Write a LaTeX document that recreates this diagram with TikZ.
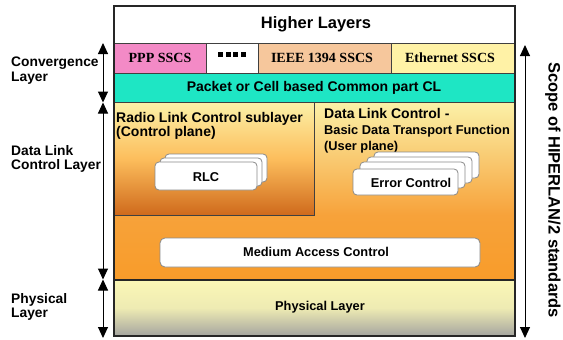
\documentclass[tikz,border=0pt]{standalone}
\usepackage{fontspec}
\setmainfont{Liberation Sans}
\newfontfamily\serifbf{Liberation Serif}[Scale=1.0]
\usetikzlibrary{arrows.meta}
\definecolor{pinkc}{HTML}{F38AC6}
\definecolor{peach}{HTML}{F6C79C}
\definecolor{lyel}{HTML}{FFF2A6}
\definecolor{cyanc}{HTML}{1EE6C4}
\definecolor{paley}{HTML}{FBF1A8}
\definecolor{darkor}{HTML}{CF6A1C}
\definecolor{midor}{HTML}{F7A23A}
\definecolor{lowor}{HTML}{F89C2A}
\definecolor{phytop}{HTML}{FBF7B6}
\definecolor{phybot}{HTML}{A5A5A0}
\definecolor{boxline}{HTML}{8A8A8A}
\tikzset{
  x=1pt, y=-1pt,
  frame/.style={draw=black!85, line width=1.1pt},
  thinframe/.style={draw=black!75, line width=0.8pt},
  lbl/.style={font=\fontsize{14}{14}\selectfont\bfseries, inner sep=0pt},
  lefttxt/.style={font=\fontsize{13.8}{14}\selectfont\bfseries, align=left, inner sep=0pt, anchor=base west},
  sscs/.style={font=\fontsize{14}{14}\selectfont\serifbf\bfseries, inner sep=0pt},
  wbox/.style={draw=boxline, fill=white, rounded corners=4pt, line width=0.8pt},
  boxtxt/.style={font=\fontsize{12.8}{13}\selectfont\bfseries, inner sep=0pt},
  dlarrow/.style={line width=1pt, {Triangle[length=11pt,width=10pt]}-{Triangle[length=11pt,width=10pt]}},
}
\begin{document}
\begin{tikzpicture}
\useasboundingbox (0,0) rectangle (563,340);
% backgrounds
\fill[white] (114,6) rectangle (515,43);
\fill[pinkc] (114,43) rectangle (206,73);
\fill[white] (206,43) rectangle (258,73);
\fill[peach] (258,43) rectangle (391,73);
\fill[lyel] (391,43) rectangle (515,73);
\fill[cyanc] (114,73) rectangle (515,102);
\shade[top color=paley, bottom color=midor] (314,102) rectangle (515,215);
\shade[top color=midor, bottom color=lowor] (114,215) rectangle (515,280);
\shade[top color=paley, bottom color=darkor, middle color=orange!45!paley] (114,102) rectangle (314,215);
\shade[top color=phytop, bottom color=phybot, middle color=phytop!85!phybot] (114,280) rectangle (515,336);
% lines
\draw[thinframe] (114,43) -- (515,43);
\draw[thinframe] (114,73) -- (515,73);
\draw[thinframe] (206,43) -- (206,73) (258,43) -- (258,73) (391,43) -- (391,73);
\draw[thinframe] (114,102) -- (515,102);
\draw[thinframe] (314,102) -- (314,215) -- (114,215);
\draw[frame] (114,280) -- (515,280);
\draw[frame] (114,6) rectangle (515,336);
% dots
\foreach \i in {0,1,2,3} \fill[black] (218+\i*7.7,52) rectangle ++(4.8,4.8);
% text
\node[lbl, font=\fontsize{16.5}{17}\selectfont\bfseries] (higher) at (316,24) {Higher Layers};
\node[sscs] (ppp) at (160,58) {PPP SSCS};
\node[sscs] (ieee) at (322,58) {IEEE 1394 SSCS};
\node[sscs] (eth) at (450,58) {Ethernet SSCS};
\node[lbl] (cl) at (314,88) {Packet or Cell based Common part CL};
\node[lbl, anchor=base west] (rlcs1) at (116,122) {Radio Link Control sublayer};
\node[lbl, anchor=base west] (rlcs2) at (116,136) {(Control plane)};
\node[lbl, anchor=base west] (dlc1) at (324,118) {Data Link Control -};
\node[boxtxt, anchor=base west] (dlc2) at (324,134) {Basic Data Transport Function};
\node[boxtxt, anchor=base west] (dlc3) at (324,150) {(User plane)};
% RLC stack
\draw[wbox] (165,154) rectangle (267,182);
\draw[wbox] (160,158) rectangle (262,186);
\draw[wbox] (155,162) rectangle (257,190);
\node[boxtxt] (rlc) at (206,177) {RLC};
% Error control stack
\draw[wbox] (374,152) rectangle (479,178);
\draw[wbox] (367,157) rectangle (472,183);
\draw[wbox] (360,162) rectangle (465,188);
\draw[wbox] (353,169) rectangle (458,195);
\node[boxtxt] (ec) at (411,183) {Error Control};
% MAC
\draw[wbox, rounded corners=5pt] (160,238) rectangle (480,267);
\node[boxtxt] (mac) at (316,252) {Medium Access Control};
\node[boxtxt] (phy) at (320,307) {Physical Layer};
% left labels
\node[lefttxt] (conv) at (11,81) {Convergence\\Layer};
\node[lefttxt] (dlcl) at (11,169) {Data Link\\Control Layer};
\node[lefttxt] (phyl) at (11,317) {Physical\\Layer};
% arrows
\coordinate (a1) at (103,43);
\coordinate (a2) at (103,102.5);
\coordinate (a3) at (103,279.5);
\coordinate (a4) at (103,338);
\draw[dlarrow] (a1) -- (a2);
\draw[dlarrow] (a2) -- (a3);
\draw[dlarrow] (a3) -- (a4);
\coordinate (r1) at (525,45);
\coordinate (r2) at (525,338);
\draw[dlarrow] (r1) -- (r2);
\node[lbl, font=\fontsize{16.5}{17}\selectfont\bfseries, rotate=-90] (scope) at (553,190) {Scope of HIPERLAN/2 standards};
\end{tikzpicture}
\end{document}
